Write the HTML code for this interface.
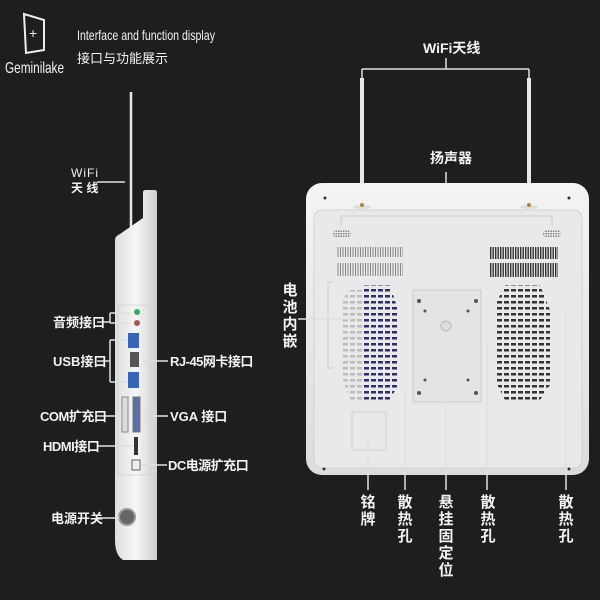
<!DOCTYPE html>
<html><head><meta charset="utf-8"><style>
html,body{margin:0;padding:0;background:#1e1e1e;}
svg{display:block}
text{font-family:"Liberation Sans","Noto Sans CJK SC",sans-serif;fill:#f2f2f2;font-weight:bold}
text.n{font-weight:normal}
</style></head><body>
<svg width="600" height="600" viewBox="0 0 600 600" xmlns="http://www.w3.org/2000/svg">
<defs>
<linearGradient id="pg" x1="0" y1="0" x2="0" y2="1"><stop offset="0" stop-color="#f4f4f4"/><stop offset="1" stop-color="#dcdcdc"/></linearGradient>
<linearGradient id="sg" x1="0" y1="0" x2="1" y2="0"><stop offset="0" stop-color="#dedede"/><stop offset="0.5" stop-color="#f6f6f6"/><stop offset="1" stop-color="#cfcfcf"/></linearGradient>
<pattern id="hb" width="7" height="6" patternUnits="userSpaceOnUse"><rect x="0" y="1" width="5" height="2.5" fill="#2a2f6a"/></pattern>
<pattern id="hk" width="7" height="6" patternUnits="userSpaceOnUse"><rect x="0" y="1" width="5" height="2.5" fill="#333"/></pattern>
<pattern id="vs" width="2.5" height="10" patternUnits="userSpaceOnUse"><rect x="0" y="0" width="1" height="10" fill="#888"/></pattern>
<pattern id="vd" width="2.5" height="10" patternUnits="userSpaceOnUse"><rect x="0" y="0" width="1.4" height="10" fill="#333"/></pattern>
<pattern id="sp" width="2.5" height="2.5" patternUnits="userSpaceOnUse"><circle cx="1.2" cy="1.2" r="0.8" fill="#777"/></pattern>
</defs>
<rect width="600" height="600" fill="#1e1e1e"/>

<!-- logo -->
<path d="M24 14 L44 20 L44 50 L26 53 Z" fill="none" stroke="#eee" stroke-width="2"/>
<text x="29" y="38" font-size="14" class="n">+</text>
<text x="5" y="73" font-size="16" class="n" textLength="59" lengthAdjust="spacingAndGlyphs">Geminilake</text>
<text x="77" y="40" font-size="14" class="n" textLength="138" lengthAdjust="spacingAndGlyphs">Interface and function display</text>
<text x="77" y="63" font-size="13" class="n">接口与功能展示</text>

<!-- left device -->
<line x1="131" y1="92" x2="131" y2="235" stroke="#e8e8e8" stroke-width="2.5"/>
<path d="M143 192 Q143 190 146 190 L155 190 Q157 190 157 193 L157 560 L123 560 Q115 555 115 540 L115 240 Q115 236 120 234 L143 218 Z" fill="url(#sg)"/>
<rect x="118" y="305" width="32" height="170" fill="none" stroke="#ccc" stroke-width="0.6"/>
<circle cx="137" cy="312" r="3" fill="#3a6"/><circle cx="137" cy="323" r="3" fill="#a55"/>
<rect x="128" y="333" width="11" height="15" fill="#3766b8"/>
<rect x="130" y="352" width="9" height="15" fill="#555"/>
<rect x="128" y="372" width="11" height="16" fill="#3766b8"/>
<rect x="122" y="397" width="6" height="35" fill="#ddd" stroke="#888"/>
<rect x="133" y="397" width="7" height="35" fill="#5a6fa8" stroke="#777"/>
<rect x="134" y="437" width="4" height="18" fill="#333"/>
<rect x="132" y="460" width="8" height="10" fill="#eee" stroke="#666"/>
<circle cx="127" cy="517" r="8" fill="#666" stroke="#999" stroke-width="2"/>

<g stroke="#e0e0e0" stroke-width="1.5" fill="none">
<line x1="97" y1="182" x2="125" y2="182"/>
<path d="M97 322 L110 322 M110 313 L110 323 M110 313 L130 313 M110 323 L130 323"/>
<path d="M97 361 L110 361 M110 340 L110 382 M110 340 L128 340 M110 382 L128 382"/>
<line x1="97" y1="416" x2="122" y2="416"/>
<line x1="97" y1="446" x2="133" y2="446"/>
<line x1="97" y1="518" x2="119" y2="518"/>
<line x1="143" y1="361" x2="168" y2="361"/>
<line x1="142" y1="416" x2="168" y2="416"/>
<line x1="142" y1="465" x2="167" y2="465"/>
</g>
<text x="71" y="177" font-size="12" class="n" letter-spacing="1">WiFi</text>
<text x="71" y="192" font-size="12">天 线</text>
<g font-size="13">
<text x="53" y="327">音频接口</text>
<text x="53" y="366">USB接口</text>
<text x="40" y="421" letter-spacing="-0.5">COM扩充口</text>
<text x="43" y="451" letter-spacing="-0.5">HDMI接口</text>
<text x="51" y="523">电源开关</text>
<text x="170" y="366" letter-spacing="-0.5">RJ-45网卡接口</text>
<text x="170" y="421">VGA 接口</text>
<text x="168" y="470" letter-spacing="-0.5">DC电源扩充口</text>
</g>

<!-- right panel -->
<g stroke="#e0e0e0" stroke-width="1.5" fill="none">
<path d="M362 69 L529 69 M446 58 L446 69 M362 69 L362 78 M529 69 L529 78"/>
<line x1="446" y1="172" x2="446" y2="216"/>
</g>
<text x="423" y="53" font-size="14">WiFi天线</text>
<text x="430" y="163" font-size="14">扬声器</text>
<rect x="360" y="78" width="4" height="130" fill="#e8e8e8"/>
<rect x="527" y="78" width="4" height="130" fill="#e8e8e8"/>
<rect x="306" y="183" width="283" height="292" rx="16" fill="url(#pg)"/>
<rect x="314" y="210" width="268" height="258" rx="8" fill="#e9e9e9" stroke="#d2d2d2"/>
<ellipse cx="362" cy="207" rx="9" ry="2" fill="#ddd"/><ellipse cx="529" cy="207" rx="9" ry="2" fill="#ddd"/>
<circle cx="362" cy="205" r="2" fill="#b08a30"/><circle cx="529" cy="205" r="2" fill="#b08a30"/>
<path d="M341 226 L341 216 L552 216 L552 226" stroke="#ccc" stroke-width="1" fill="none"/>
<rect x="333" y="230" width="18" height="8" rx="4" fill="url(#sp)"/>
<rect x="543" y="230" width="18" height="8" rx="4" fill="url(#sp)"/>
<rect x="336" y="247" width="67" height="10" fill="url(#vs)"/>
<rect x="336" y="263" width="67" height="13" fill="url(#vs)"/>
<rect x="490" y="247" width="68" height="12" fill="url(#vd)"/>
<rect x="490" y="263" width="68" height="14" fill="url(#vd)"/>
<path d="M364 285 L390 285 L398 310 L398 385 L390 400 L364 400 Z" fill="url(#hb)"/>
<path d="M348 290 L362 290 L362 400 L350 400 L343 380 L343 300 Z" fill="url(#hk)" opacity="0.25"/>
<path d="M505 285 L540 285 L550 310 L550 385 L540 400 L505 400 L495 380 L495 305 Z" fill="url(#hk)"/>
<rect x="413" y="290" width="68" height="112" fill="#e4e4e4" stroke="#ccc"/>
<circle cx="446" cy="326" r="5" fill="#ddd" stroke="#bbb"/>
<g fill="#555"><circle cx="419" cy="301" r="2"/><circle cx="476" cy="301" r="2"/><circle cx="419" cy="393" r="2"/><circle cx="476" cy="393" r="2"/><circle cx="425" cy="311" r="1.5"/><circle cx="468" cy="311" r="1.5"/><circle cx="425" cy="380" r="1.5"/><circle cx="468" cy="380" r="1.5"/></g>
<rect x="352" y="412" width="34" height="38" fill="none" stroke="#d0d0d0"/>
<path d="M333 282 L328 282 L328 368 L333 368" stroke="#ccc" fill="none"/>
<g fill="#333"><circle cx="325" cy="198" r="1.5"/><circle cx="569" cy="198" r="1.5"/><circle cx="324" cy="469" r="1.5"/><circle cx="569" cy="469" r="1.5"/></g>

<g stroke="#e0e0e0" stroke-width="1.5" fill="none">
<line x1="298" y1="319" x2="352" y2="319"/>
<line x1="368" y1="438" x2="368" y2="490"/>
<line x1="405" y1="390" x2="405" y2="490"/>
<line x1="446" y1="352" x2="446" y2="490"/>
<line x1="487" y1="344" x2="487" y2="490"/>
<line x1="566" y1="310" x2="566" y2="490"/>
</g>
<g font-size="15" text-anchor="middle">
<text x="290" y="295">电</text><text x="290" y="312">池</text><text x="290" y="329">内</text><text x="290" y="346">嵌</text>
<text x="368" y="507">铭</text><text x="368" y="524">牌</text>
<text x="405" y="507">散</text><text x="405" y="524">热</text><text x="405" y="541">孔</text>
<text x="446" y="507">悬</text><text x="446" y="524">挂</text><text x="446" y="541">固</text><text x="446" y="558">定</text><text x="446" y="575">位</text>
<text x="488" y="507">散</text><text x="488" y="524">热</text><text x="488" y="541">孔</text>
<text x="566" y="507">散</text><text x="566" y="524">热</text><text x="566" y="541">孔</text>
</g>
</svg>
</body></html>
